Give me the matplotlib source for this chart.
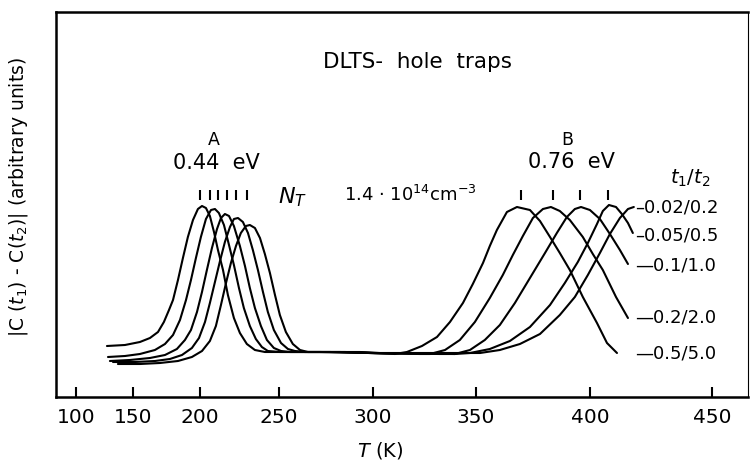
import numpy as np
import matplotlib
matplotlib.use('Agg')
import matplotlib.pyplot as plt

# ─────────────────────────────────────────────
# Data
# T in K, signal in arbitrary units
# one curve per rate window t1/t2 (ms)
# ─────────────────────────────────────────────
rate_windows = ['0.02/0.2', '0.05/0.5', '0.1/1.0', '0.2/2.0', '0.5/5.0']

curve_002_02 = [
    (136.8, 8.25), (155.2, 8.25), (170.1, 8.5), (183.6, 9.0), (194.0, 10.0),
    (201.3, 11.5), (206.3, 14.0), (210.1, 17.75), (213.3, 23.0), (216.5, 28.5),
    (219.6, 33.5), (222.8, 37.75), (225.9, 41.0), (229.1, 42.75), (231.6, 43.0),
    (234.8, 42.25), (238.0, 39.75), (241.1, 35.75), (244.3, 31.0), (247.5, 25.5),
    (250.5, 20.5), (253.7, 16.25), (257.4, 13.25), (261.2, 11.75), (265.4, 11.25),
    (271.8, 11.25), (293.1, 11.25), (303.4, 11.0), (347.1, 11.0), (351.8, 11.0),
    (360.5, 11.75), (369.3, 13.25), (378.1, 15.75), (386.8, 20.5), (393.4, 25.0),
    (399.1, 30.5), (404.1, 36.0), (408.2, 40.75), (412.3, 44.75), (415.6, 47.0),
    (418.0, 47.5),
]
curve_005_05 = [
    (132.5, 8.75), (151.5, 8.75), (166.4, 9.0), (177.6, 9.5), (186.6, 10.5),
    (194.0, 12.25), (199.3, 14.75), (203.2, 18.75), (206.3, 23.5), (209.5, 28.75),
    (212.7, 34.0), (215.8, 38.75), (219.0, 42.5), (221.5, 44.5), (224.1, 44.75),
    (227.2, 43.75), (230.4, 41.0), (233.5, 36.75), (236.7, 31.75), (239.9, 26.25),
    (243.0, 21.25), (246.8, 16.75), (251.1, 13.5), (254.8, 12.0), (258.5, 11.5),
    (263.8, 11.25), (285.1, 11.25), (301.0, 11.0), (339.8, 10.75), (347.1, 11.0),
    (356.1, 12.0), (364.9, 14.0), (373.7, 17.5), (382.5, 23.0), (389.0, 28.5),
    (394.7, 33.75), (399.1, 38.5), (402.9, 43.25), (405.3, 46.5), (407.8, 48.0),
    (410.7, 47.5), (413.1, 45.75), (415.6, 43.5), (417.6, 41.0),
]
curve_01_10 = [
    (129.8, 9.0), (147.4, 9.25), (162.7, 9.75), (173.9, 10.5), (182.8, 12.0),
    (188.8, 14.25), (193.3, 16.75), (197.8, 21.25), (201.3, 26.25), (204.4, 31.75),
    (207.6, 37.25), (210.8, 42.0), (213.3, 44.75), (215.8, 45.75), (218.4, 45.25),
    (221.5, 42.75), (225.3, 37.75), (228.5, 32.75), (231.6, 27.25), (234.8, 22.25),
    (238.6, 17.75), (242.4, 14.25), (246.8, 12.25), (251.1, 11.5), (255.9, 11.25),
    (277.1, 11.25), (298.4, 11.0), (332.5, 10.75), (339.8, 10.75), (347.1, 11.75),
    (353.9, 14.25), (360.5, 18.0), (367.1, 23.5), (373.7, 29.75), (380.3, 36.0),
    (385.5, 41.0), (389.9, 45.0), (393.4, 47.0), (396.1, 47.5), (400.0, 46.75),
    (404.1, 44.5), (408.2, 40.75), (412.3, 36.75), (415.6, 33.25),
]
curve_02_20 = [
    (128.1, 10.0), (143.0, 10.25), (155.2, 10.75), (166.4, 11.75), (173.9, 13.25),
    (179.9, 15.5), (185.1, 19.25), (189.6, 24.25), (193.3, 29.25), (197.0, 34.75),
    (200.6, 40.0), (203.8, 44.5), (207.0, 46.75), (209.5, 47.0), (212.0, 46.0),
    (215.2, 43.0), (218.4, 38.0), (221.5, 33.0), (224.7, 27.25), (227.8, 22.25),
    (231.6, 17.75), (235.4, 14.5), (239.2, 12.5), (243.0, 11.5), (250.5, 11.25),
    (271.8, 11.25), (298.4, 11.0), (322.8, 10.75), (327.7, 10.75), (335.0, 11.75),
    (342.2, 14.25), (349.5, 18.75), (356.1, 24.75), (361.8, 30.5), (366.2, 35.5),
    (370.6, 40.25), (375.0, 44.75), (379.4, 47.0), (382.9, 47.5), (386.8, 46.5),
    (391.2, 44.25), (396.9, 40.0), (401.2, 35.75), (405.3, 31.75), (410.7, 25.0),
    (415.6, 19.75),
]
curve_05_50 = [
    (127.2, 12.75), (143.0, 13.0), (155.2, 13.75), (162.7, 14.75), (168.7, 16.25),
    (173.1, 18.75), (176.9, 21.75), (179.9, 24.25), (183.6, 29.25), (187.3, 34.75),
    (191.0, 40.0), (194.8, 44.25), (198.5, 47.0), (201.3, 47.75), (203.8, 47.25),
    (206.3, 45.25), (208.9, 41.25), (211.4, 36.75), (214.6, 31.75), (217.7, 25.5),
    (221.5, 19.75), (225.3, 16.0), (229.7, 13.25), (234.8, 11.75), (241.1, 11.25),
    (261.2, 11.25), (282.4, 11.25), (298.4, 11.0), (310.7, 10.75), (316.5, 11.25),
    (323.8, 12.75), (331.1, 15.0), (337.4, 18.75), (343.7, 23.5), (348.5, 28.25),
    (353.1, 33.5), (356.1, 37.75), (359.2, 41.75), (363.6, 46.25), (368.0, 47.5),
    (373.7, 46.75), (378.1, 44.0), (382.5, 40.0), (386.8, 36.0), (391.2, 31.75),
    (396.9, 25.0), (402.9, 18.5), (407.0, 13.5), (411.1, 11.0),
]
curves = [curve_002_02, curve_005_05, curve_01_10, curve_02_20, curve_05_50]

# peak position markers drawn above the peaks
peak_ticks_A = [200.0, 206.3, 211.4, 217.1, 222.8, 229.7]
peak_ticks_B = [369.7, 383.8, 395.6, 407.4]

x_ticks = [100, 150, 200, 250, 300, 350, 400, 450]

# ─────────────────────────────────────────────
# The printed T axis is not linear: tick spacing grows with T.
# Calibrate a function scale from where each tick sits on the axis.
# ─────────────────────────────────────────────
axis_T = np.array([0, 100, 150, 200, 250, 300, 350, 400, 450, 600])
axis_pos = np.array([-38, 76, 133, 200, 279, 373, 476, 590, 712, 1078], dtype=float)

def fwd(t):
    return np.interp(t, axis_T, axis_pos)

def inv(p):
    return np.interp(p, axis_pos, axis_T)

plt.rcParams['font.family'] = 'DejaVu Sans'

fig = plt.figure(figsize=(7.5, 4.67), dpi=100)
ax = fig.add_axes([56 / 750, 1 - 397 / 467, 692 / 750, 385 / 467])
ax.set_xscale('function', functions=(fwd, inv))

for c in curves:
    arr = np.array(c)
    ax.plot(arr[:, 0], arr[:, 1], color='black', lw=1.5,
            solid_joinstyle='round', solid_capstyle='round')

ax.plot(peak_ticks_A, [50.5] * len(peak_ticks_A), ls='none', marker='|',
        ms=7, mew=1.5, color='black')
ax.plot(peak_ticks_B, [50.5] * len(peak_ticks_B), ls='none', marker='|',
        ms=7, mew=1.5, color='black')

ax.set_xlim(82.5, 464.8)
ax.set_ylim(0, 96.25)
ax.set_xticks(x_ticks)
ax.set_xticklabels([str(t) for t in x_ticks])
ax.set_yticks([])
ax.tick_params(axis='x', direction='in', length=7, width=1.5,
               labelsize=14.5, pad=8)

for side in ['left', 'top', 'bottom']:
    ax.spines[side].set_linewidth(1.8)
ax.spines['right'].set_linewidth(0.8)

ax.set_xlabel('$T$ (K)', fontsize=14)
ax.xaxis.set_label_coords(0.468, -0.112)
ax.set_ylabel('|C ($t_1$) - C($t_2$)| (arbitrary units)', fontsize=13.5)
ax.yaxis.set_label_coords(-0.038, 0.52)

# annotations
ax.text(321.4, 83.75, 'DLTS-  hole  traps', ha='center', va='center', fontsize=15.5)
ax.text(208.9, 64.25, 'A', ha='center', va='center', fontsize=12.5)
ax.text(210.5, 58.5, '0.44  eV', ha='center', va='center', fontsize=15)
ax.text(389.9, 64.25, 'B', ha='center', va='center', fontsize=12.5)
ax.text(392.1, 58.75, '0.76  eV', ha='center', va='center', fontsize=15)
ax.text(257.4, 50.0, '$N_T$', ha='center', va='center', fontsize=16)
ax.text(318.0, 50.5, '1.4 · 10$^{14}$cm$^{-3}$', ha='center', va='center',
        fontsize=13)
ax.text(441.0, 54.75, '$t_1/t_2$', ha='center', va='center', fontsize=14)

label_y = [47.25, 40.5, 33.0, 19.75, 11.0]
dashes = ['–', '–', '—', '—', '—']
for lab, yy, d in zip(rate_windows, label_y, dashes):
    ax.text(418.5, yy, d + lab, ha='left', va='center', fontsize=13)

fig.savefig('out.png', dpi=100)
